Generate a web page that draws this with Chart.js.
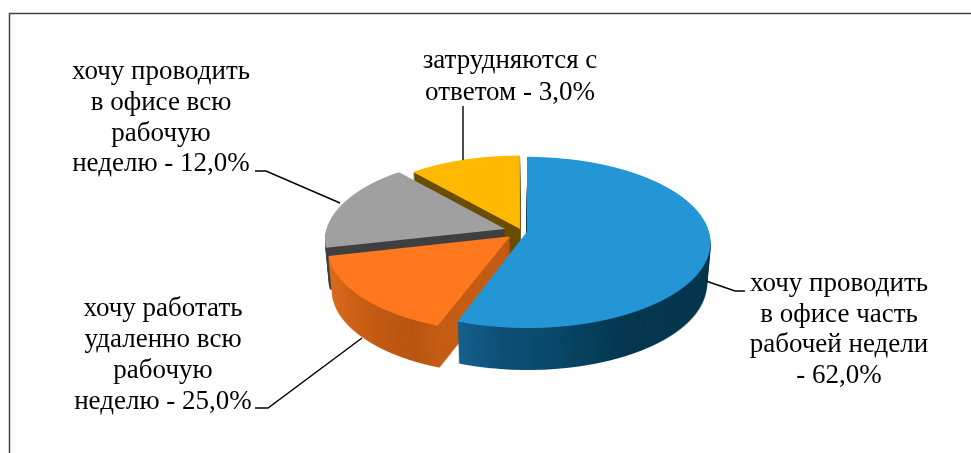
<!DOCTYPE html>
<html><head><meta charset="utf-8">
<style>html,body{margin:0;padding:0;background:#fff}#w{width:971px;height:453px}</style>
<script src="https://cdn.jsdelivr.net/npm/chart.js@4"></script></head>
<body><div id="w"><canvas id="c" width="971" height="453"></canvas></div>
<script>
// Category captions as printed in the source picture
const categories = ["хочу проводить в офисе часть рабочей недели - 62,0%",
  "хочу работать удаленно всю рабочую неделю - 25,0%",
  "хочу проводить в офисе всю рабочую неделю - 12,0%",
  "затрудняются с ответом - 3,0%"];
const printedPercent = [62, 25, 12, 3];
// Slice sizes as actually drawn in the picture (they differ from the printed captions)
const drawnShare = [55.6, 15.8, 17.2, 11.4];
const sliceColors = ["#2496D6", "#FF781E", "#A0A0A0", "#FFB900"];
const explode = [20, 64, 72, 24];
const sideStops = [
  ["#05374F","#05374F","#05374F","#05374F","#05374F","#05374F","#05374F","#05374F","#05374F","#05374F","#05374F","#05374F","#05374F","#06405C","#0A4A6C","#0F5078","#15628C"],
  ["#C65E16","#B85510","#BE5812","#C65C14","#CC6018","#D4661A","#DA6A1C","#E0701F"],
  ["#404040","#404040"],
  ["#6B4E00","#6B4E00"]
];
const drawOrder = [3, 2, 1, 0];
// perspective of the tilted pie
const persp = {c:0.4577, p:0.000667, kx:0.989, yc:231.5, depth:42, taper:0.0005};

const captions = [
  {lines:["хочу проводить","в офисе часть","рабочей недели","- 62,0%"], x:839, y:[291,322,352,383]},
  {lines:["хочу работать","удаленно всю","рабочую","неделю - 25,0%"], x:163, y:[316,347,378,409]},
  {lines:["хочу проводить","в офисе всю","рабочую","неделю - 12,0%"], x:161, y:[79,110,141,171]},
  {lines:["затрудняются с","ответом - 3,0%"], x:510, y:[68,100]}
];
const leaders = [
  [[706,281],[735,291],[745,291]],
  [[255,408],[268,408],[362,338]],
  [[255,171],[266,171],[340,203]],
  [[463,106],[463,160]]
];

function renderFace(el, fill) {
  const cv = document.createElement("canvas");
  cv.width = 971; cv.height = 453;
  const ctx = cv.getContext("2d");
  const proxy = Object.create(el, {options:{value:Object.assign({}, el.options, {backgroundColor:fill})}});
  const {c, p, kx, yc} = persp;
  for (let y = 130; y < 350; y++) {
    const Y = y + 0.5 - yc;
    const u = Y / (c + p * Y);
    const den = 1 - p * u;
    const m = kx / den, dy = c / (den * den);
    ctx.save();
    ctx.beginPath(); ctx.rect(0, y, 971, 1); ctx.clip();
    ctx.setTransform(m, 0, 0, dy, el.x - m * el.x, y + 0.5 - dy * (el.y + u));
    proxy.draw(ctx);
    ctx.restore();
  }
  return cv;
}
function sideFill(ctx, el, stops) {
  const g = ctx.createConicGradient(el.startAngle, el.x, el.y);
  const span = (el.endAngle - el.startAngle) / (2 * Math.PI);
  stops.forEach((s, i) => g.addColorStop(span * i / (stops.length - 1), s));
  g.addColorStop(Math.min(1, span + 0.001), stops[stops.length - 1]);
  g.addColorStop(1, stops[0]);
  return g;
}
const pie3d = {
  id:"pie3d",
  beforeDatasetsDraw(chart) {
    const ctx = chart.ctx, arcs = chart.getDatasetMeta(0).data;
    drawOrder.forEach(i => {
      const el = arcs[i];
      const side = renderFace(el, sideFill(ctx, el, sideStops[i]));
      const top = renderFace(el, sliceColors[i]);
      for (let d = persp.depth; d >= 1; d--) {
        const s = 1 - d * persp.taper;
        ctx.setTransform(s, 0, 0, 1, el.x - s * el.x, d);
        ctx.drawImage(side, 0, 0);
      }
      ctx.setTransform(1, 0, 0, 1, 0, 0);
      ctx.drawImage(top, 0, 0);
    });
    return false;
  },
  afterDraw(chart) {
    const ctx = chart.ctx;
    ctx.save();
    ctx.strokeStyle = "#444"; ctx.lineWidth = 1.5;
    ctx.beginPath(); ctx.moveTo(9.5, 453); ctx.lineTo(9.5, 13.5); ctx.lineTo(971, 13.5); ctx.stroke();
    ctx.strokeStyle = "#000"; ctx.lineWidth = 1.4;
    leaders.forEach(q => { ctx.beginPath(); q.forEach((t, i) => i ? ctx.lineTo(t[0], t[1]) : ctx.moveTo(t[0], t[1])); ctx.stroke(); });
    ctx.fillStyle = "#000"; ctx.font = "27px 'Liberation Serif'"; ctx.textAlign = "center"; ctx.textBaseline = "alphabetic";
    captions.forEach(k => k.lines.forEach((t, i) => ctx.fillText(t, k.x, k.y[i])));
    ctx.restore();
  }
};
new Chart(document.getElementById("c"), {
  type:"pie",
  data:{labels:categories, datasets:[{data:drawnShare, backgroundColor:sliceColors, borderWidth:0, offset:explode}]},
  options:{responsive:false, animation:false, radius:179,
    layout:{padding:{left:73, top:7}},
    plugins:{legend:{display:false}, tooltip:{enabled:false}}},
  plugins:[pie3d]
});
</script></body></html>
